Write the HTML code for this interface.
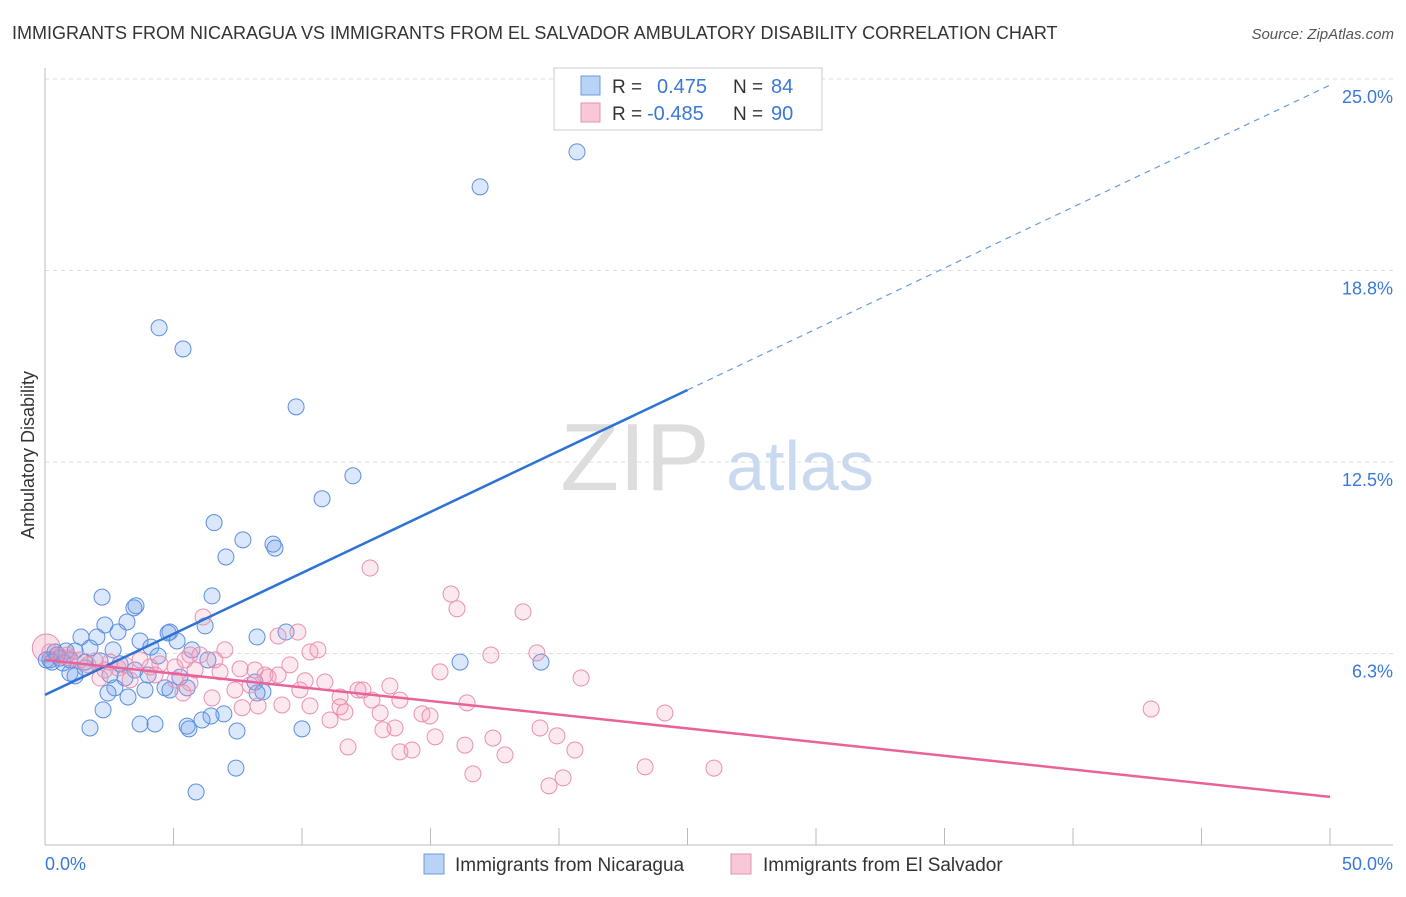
<!DOCTYPE html>
<html><head><meta charset="utf-8"><style>
body{margin:0;background:#fff;font-family:"Liberation Sans",sans-serif;}
svg text{font-family:"Liberation Sans",sans-serif;}
</style></head><body>
<svg id="chart" width="1406" height="892" viewBox="0 0 1406 892" xmlns="http://www.w3.org/2000/svg">
<text x="12" y="39" font-size="18" fill="#333">IMMIGRANTS FROM NICARAGUA VS IMMIGRANTS FROM EL SALVADOR AMBULATORY DISABILITY CORRELATION CHART</text>
<text x="1394" y="39" font-size="15" fill="#555" font-style="italic" text-anchor="end">Source: ZipAtlas.com</text>
<g>
<text x="635" y="490" font-size="96" fill="#ddd" font-family="Liberation Serif,serif" text-anchor="middle">ZIP</text>
<text x="800" y="490" font-size="70" fill="#c9d9f0" text-anchor="middle">atlas</text>
</g>
<g id="grid"></g><g id="axes"></g><g id="pts"></g><g id="lines"></g>
<text transform="translate(34,455) rotate(-90)" font-size="18" fill="#333" text-anchor="middle">Ambulatory Disability</text>
<g>
<rect x="554" y="68" width="268" height="62" fill="#fff" stroke="#ccc"/>
<rect x="581" y="76" width="19" height="19" fill="#b8d3f5" stroke="#6a9be0"/>
<rect x="581" y="103" width="19" height="19" fill="#f9c8d8" stroke="#e890b0"/>
<text x="612" y="93" font-size="19" fill="#333">R =</text>
<text x="657" y="93" font-size="20" fill="#3a78d8">0.475</text>
<text x="733" y="93" font-size="19" fill="#333">N =</text>
<text x="771" y="93" font-size="20" fill="#3a78d8">84</text>
<text x="612" y="120" font-size="19" fill="#333">R =</text>
<text x="647" y="120" font-size="20" fill="#3a78d8">-0.485</text>
<text x="733" y="120" font-size="19" fill="#333">N =</text>
<text x="771" y="120" font-size="20" fill="#3a78d8">90</text>
</g>
<g>
<rect x="424" y="854" width="20" height="20" fill="#b8d3f5" stroke="#6a9be0"/>
<text x="455" y="871" font-size="19" fill="#333">Immigrants from Nicaragua</text>
<rect x="731" y="854" width="20" height="20" fill="#f9c8d8" stroke="#e890b0"/>
<text x="763" y="871" font-size="19" fill="#333">Immigrants from El Salvador</text>
</g>
</svg>
<script>
const yTicks=[6.25,12.5,18.75,25];
const yTickLabels=["6.3%","12.5%","18.8%","25.0%"];
const xTickVals=[0,5,10,15,20,25,30,35,40,45,50];
const blueX=[20.70,16.93,4.44,5.37,9.77,11.98,10.78,6.58,7.70,8.87,8.95,7.04,2.22,6.50,3.54,3.46,6.23,3.19,2.33,4.86,4.79,2.84,2.02,1.40,3.70,9.38,8.25,4.12,5.14,2.65,1.75,5.72,0.82,1.17,0.39,0.19,0.58,0.97,1.56,2.14,2.92,4.40,6.34,16.15,19.30,3.50,2.53,1.56,0.97,1.17,3.11,4.01,5.25,8.17,2.72,3.89,4.67,4.86,5.53,2.45,3.23,8.48,8.25,2.26,6.96,6.46,6.11,3.70,4.28,5.53,5.60,1.75,7.47,10.00,7.43,5.88,0.05,0.27,0.70,0.47];
const blueYRaw=[23.19,22.05,17.45,16.76,14.87,12.62,11.87,11.09,10.53,10.39,10.26,9.97,8.66,8.70,8.38,8.31,7.72,7.85,7.75,7.52,7.49,7.52,7.36,7.36,7.23,7.52,7.36,7.03,7.23,6.94,7.00,6.94,6.90,6.90,6.87,6.61,6.67,6.61,6.54,6.58,6.48,6.74,6.61,6.54,6.54,6.28,6.12,6.35,6.18,6.09,6.02,6.12,6.05,5.89,5.70,5.63,5.70,5.63,5.70,5.53,5.40,5.57,5.53,4.98,4.85,4.78,4.65,4.52,4.52,4.45,4.36,4.39,4.29,4.36,3.08,2.30,6.61,6.54,6.51,6.77];
const pinkX=[0.05,0.19,0.58,0.97,1.36,1.95,2.53,3.11,3.70,4.09,4.47,5.06,5.45,6.03,6.61,7.00,7.59,8.17,8.56,9.07,9.84,10.31,10.62,12.65,15.80,16.03,18.60,19.14,17.35,15.37,20.86,43.04,24.12,26.03,23.35,6.15,5.64,6.81,7.39,7.98,8.68,9.53,10.12,10.89,11.48,12.18,12.37,13.42,12.72,13.04,13.81,11.48,11.67,10.31,9.22,11.09,13.15,13.62,14.67,14.98,16.42,15.18,16.34,17.43,19.26,19.92,20.62,17.90,16.65,11.79,13.81,14.28,20.16,19.61,6.50,5.37,5.64,5.06,4.28,3.31,2.33,2.84,1.67,0.86,2.14,8.29,7.67,9.07,9.92,5.84];
const pinkYRaw=[7.00,6.87,6.74,6.67,6.61,6.58,6.54,6.45,6.61,6.38,6.48,6.38,6.61,6.77,6.61,6.94,6.32,6.28,6.12,7.39,7.52,6.87,6.94,9.61,8.76,8.28,8.18,6.84,6.77,6.22,6.02,5.01,4.88,3.08,3.12,8.01,6.77,6.22,5.63,5.79,6.05,6.45,5.93,5.89,5.40,5.63,5.63,5.76,5.30,4.88,5.30,5.08,4.91,5.11,5.14,4.65,4.33,4.39,4.85,4.78,5.21,4.10,3.83,4.06,4.39,4.13,3.67,3.51,2.89,3.77,3.61,3.67,2.76,2.50,5.37,5.53,5.86,5.96,6.12,5.96,6.28,6.35,6.45,6.77,6.02,5.11,5.05,6.12,5.63,6.28];
const blueY=blueYRaw.map(v=>+(v-0.57).toFixed(2));
const pinkY=pinkYRaw.map(v=>+(v-0.57).toFixed(2));
const blueTrendX=[0,25,50];
const blueTrendY=[4.90,14.85,24.8];
const pinkTrendX=[0,50];
const pinkTrendY=[6.04,1.57];

const NS="http://www.w3.org/2000/svg";
const X0=45,XPX=25.7,Y0=845,YPX=30.64;
const xs=v=>X0+v*XPX, ys=v=>Y0-v*YPX;
function mk(tag,parent,attrs){const e=document.createElementNS(NS,tag);for(const k in attrs)e.setAttribute(k,attrs[k]);parent.appendChild(e);return e;}
const grid=document.getElementById('grid'),axes=document.getElementById('axes'),pts=document.getElementById('pts'),lines=document.getElementById('lines');
yTicks.forEach((t,i)=>{
 const l=mk('line',grid,{x1:45,x2:1393,y1:ys(t),y2:ys(t),stroke:'#ddd','stroke-dasharray':'4,4'});
 
 
 const tx=mk('text',grid,{x:1393,y:ys(t)+24,'font-size':18,fill:'#3a78d8','text-anchor':'end'});
 tx.textContent=yTickLabels[i];
 
 
});
const xa=mk('line',axes,{x1:45,x2:1393,y1:845,y2:845,stroke:'#bbb'});


const ya=mk('line',axes,{x1:45,x2:45,y1:68,y2:845,stroke:'#bbb'});


xTickVals.forEach(t=>{
 const l=mk('line',axes,{x1:xs(t),x2:xs(t),y1:828,y2:845,stroke:'#bbb'});
 
 
});
const xl0=mk('text',axes,{x:45,y:870,'font-size':18,fill:'#3a78d8'});xl0.textContent='0.0%';


const xl1=mk('text',axes,{x:1393,y:870,'font-size':18,fill:'#3a78d8','text-anchor':'end'});xl1.textContent='50.0%';


// big pink circle at origin
const big=mk('circle',pts,{cx:xs(pinkX[0]),cy:ys(pinkY[0]),r:14,fill:'rgba(240,150,180,0.3)',stroke:'#e890b0'});


blueX.forEach((x,i)=>{
 const c=mk('circle',pts,{cx:xs(x),cy:ys(blueY[i]),r:8,fill:'rgba(110,160,235,0.25)',stroke:'#5b8fe0','stroke-width':1});
 
 
});
pinkX.forEach((x,i)=>{ if(i===0)return;
 const c=mk('circle',pts,{cx:xs(x),cy:ys(pinkY[i]),r:8,fill:'rgba(240,150,180,0.22)',stroke:'#e890b0','stroke-width':1});
 
 
});
const bs=mk('line',lines,{x1:xs(blueTrendX[0]),y1:ys(blueTrendY[0]),x2:xs(blueTrendX[1]),y2:ys(blueTrendY[1]),stroke:'#2f72d6','stroke-width':2.5});


const bd=mk('line',lines,{x1:xs(blueTrendX[1]),y1:ys(blueTrendY[1]),x2:xs(blueTrendX[2]),y2:ys(blueTrendY[2]),stroke:'#6a9be0','stroke-width':1.2,'stroke-dasharray':'6,5'});


const pl=mk('line',lines,{x1:xs(pinkTrendX[0]),y1:ys(pinkTrendY[0]),x2:xs(pinkTrendX[1]),y2:ys(pinkTrendY[1]),stroke:'#e8639a','stroke-width':2.5});


</script>
</body></html>
